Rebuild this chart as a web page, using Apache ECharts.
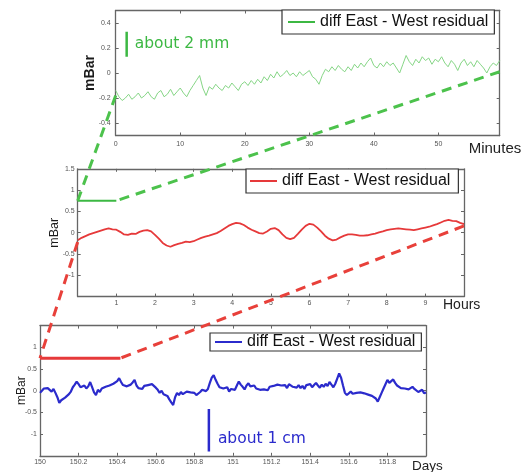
<!DOCTYPE html>
<html><head><meta charset="utf-8">
<script src="https://cdn.jsdelivr.net/npm/echarts@6/dist/echarts.min.js"></script>
<style>html,body{margin:0;padding:0;background:#fff}#c{width:524px;height:472px}</style>
</head><body><div id="c"></div>
<script>
// ---------------- data ----------------
const seriesName = 'diff East - West residual';

// Panel 1: minutes (0 .. 59.5, step 0.5)
const minuteStep = 0.5;
const minuteValues = [
 -0.14,-0.19,-0.22,-0.20,-0.17,-0.21,-0.19,-0.16,-0.20,-0.18,
 -0.15,-0.19,-0.21,-0.16,-0.14,-0.19,-0.17,-0.13,-0.18,-0.15,
 -0.12,-0.16,-0.19,-0.14,-0.10,-0.06,-0.02,-0.12,-0.18,-0.11,
 -0.13,-0.09,-0.12,-0.14,-0.10,-0.12,-0.08,-0.11,-0.14,-0.09,
 -0.07,-0.10,-0.06,-0.09,-0.05,-0.08,-0.03,-0.06,-0.01,-0.04,
  0.01,-0.03,-0.01, 0.02,-0.02, 0.00,-0.03, 0.01,-0.02, 0.00,
  0.02,-0.03,-0.05,-0.09,-0.02, 0.03, 0.01, 0.05, 0.02, 0.06,
  0.03, 0.01, 0.05, 0.02, 0.07, 0.04, 0.08, 0.05, 0.09, 0.12,
  0.06, 0.04, 0.08, 0.05, 0.09, 0.06, 0.08, 0.04, 0.00, 0.07,
  0.14, 0.09, 0.06, 0.11, 0.08, 0.13, 0.10, 0.12, 0.07, 0.11,
  0.09, 0.13, 0.08, 0.05, 0.10, 0.07, 0.02, 0.08, 0.11, 0.06,
  0.09, 0.05, 0.10, 0.07, 0.04, 0.00, 0.05, 0.08, 0.06, 0.10
];

// Panel 2: hours (0 .. 10, step 0.1)
const hourStep = 0.1;
const hourValues = [
 -0.18,-0.12,-0.08,-0.04,-0.01, 0.02, 0.05, 0.08, 0.10, 0.08,
  0.07, 0.02,-0.04,-0.05,-0.02,-0.03, 0.02, 0.05, 0.06, 0.03,
 -0.05,-0.14,-0.24,-0.30,-0.33,-0.29,-0.26,-0.24,-0.21,-0.22,
 -0.20,-0.16,-0.12,-0.09,-0.07,-0.04,-0.01, 0.04, 0.10, 0.16,
  0.20, 0.23, 0.22, 0.18, 0.12, 0.07, 0.03,-0.01,-0.02, 0.03,
  0.09, 0.11, 0.06,-0.04,-0.12,-0.15,-0.12,-0.03, 0.07, 0.16,
  0.21, 0.19, 0.12, 0.03,-0.07,-0.14,-0.18,-0.16,-0.11,-0.07,
 -0.04,-0.04,-0.05,-0.07,-0.07,-0.06,-0.04,-0.02, 0.01, 0.03,
  0.06, 0.08, 0.09, 0.10, 0.09, 0.08, 0.07, 0.06, 0.08, 0.10,
  0.12, 0.14, 0.17, 0.20, 0.24, 0.28, 0.30, 0.28, 0.27, 0.23,
  0.20
];

// Panel 3: days (150 .. 152, step 0.01)
const dayStart = 150;
const dayStep = 0.01;
const dayValues = [
 -0.05, 0.00, 0.05, 0.09, 0.06, 0.02,-0.02, 0.04,-0.05,-0.15,
 -0.28,-0.22,-0.25,-0.16,-0.14,-0.08,-0.02, 0.08, 0.14, 0.21,
  0.15, 0.08, 0.06, 0.12, 0.05, 0.10, 0.20, 0.08,-0.04,-0.10,
  0.02,-0.03, 0.05, 0.02, 0.09, 0.07, 0.12, 0.10, 0.16, 0.13,
  0.22, 0.29, 0.20, 0.13, 0.17, 0.10, 0.06, 0.14, 0.19, 0.25,
  0.12, 0.06, 0.10, 0.04, 0.11, 0.08, 0.13, 0.09, 0.15, 0.13,
  0.07, 0.02,-0.05, 0.00,-0.08,-0.04,-0.12,-0.20,-0.27,-0.33,
 -0.15,-0.05,-0.10,-0.03,-0.08,-0.05,-0.02,-0.06,-0.04,-0.08,
 -0.05,-0.10,-0.07,-0.03, 0.02, 0.06,-0.01, 0.04, 0.18, 0.30,
  0.36, 0.25, 0.16, 0.08, 0.12, 0.05, 0.02, 0.08,-0.02, 0.04,
  0.08, 0.02, 0.12, 0.21, 0.14, 0.09, 0.03, 0.12, 0.17, 0.10,
  0.06, 0.12, 0.05, 0.09, 0.02,-0.02, 0.03, 0.06, 0.01, 0.09,
  0.05, 0.11, 0.07, 0.14, 0.17, 0.12, 0.09, 0.13, 0.06, 0.15,
  0.17, 0.09, 0.13, 0.07, 0.13, 0.06, 0.11, 0.04, 0.13, 0.09,
  0.15, 0.08, 0.13, 0.18, 0.12, 0.07, 0.14, 0.09, 0.16, 0.11,
  0.20, 0.14, 0.08, 0.16, 0.28, 0.40, 0.30, 0.12,-0.05,-0.10,
 -0.08,-0.02,-0.07,-0.03,-0.05,-0.09,-0.04,-0.02,-0.06,-0.05,
 -0.09,-0.07,-0.12,-0.10,-0.18,-0.25,-0.15,-0.05, 0.05, 0.15,
  0.25, 0.18, 0.21, 0.26, 0.18, 0.12, 0.15, 0.06, 0.10, 0.05,
  0.09, 0.03, 0.07, 0.09, 0.04, 0.07,-0.03,-0.05, 0.02,-0.06,
 -0.04
];

// Tick values
const minuteTicks = [0, 10, 20, 30, 40, 50];
const minuteYTicks = [-0.4, -0.2, 0, 0.2, 0.4];
const hourTicks = [1, 2, 3, 4, 5, 6, 7, 8, 9];
const hourYTicks = [-1, -0.5, 0, 0.5, 1, 1.5];
const hourYTickMarks = [-1.5, -1, -0.5, 0, 0.5, 1, 1.5];
const dayTicks = [150, 150.2, 150.4, 150.6, 150.8, 151, 151.2, 151.4, 151.6, 151.8];
const dayYTicks = [-1, -0.5, 0, 0.5, 1];

// Axis ranges
const minuteRange = [0, 59.5], minuteYRange = [-0.5, 0.5];
const hourRange = [0, 10], hourYRange = [-1.5, 1.5];
const dayRange = [150, 152], dayYRange = [-1.5, 1.5];

// Axis titles
const xTitles = ['Minutes', 'Hours', 'Days'];
const yTitle = 'mBar';

// Zoom markers (the span shown in the panel above) and scale bars
const zoomMarkHours = [[0, 0.75], [1, 0.75]];
const zoomMarkDays = [[150, 0.75], [150.4167, 0.75]];
const scaleBar2mm = [[1.7, 0.13], [1.7, 0.33]];
const scaleBar1cm = [[150.875, -0.42], [150.875, -1.4]];
const label2mm = 'about 2 mm';
const label1cm = 'about 1 cm';
const label2mmAnchor = [1.7, 0.23];
const label1cmAnchor = [150.875, -1.11];
// Connector anchors in the upper panels
const connectGreenFrom = [[0, -0.18], [59.5, 0.01]];
const connectRedFrom = [[0, -0.22], [10, 0.16]];

// ---------------- build ----------------
const minuteData = minuteValues.map((v, i) => [i * minuteStep, v]);
const hourData = hourValues.map((v, i) => [+(i * hourStep).toFixed(2), v]);
const dayData = dayValues.map((v, i) => [+(dayStart + i * dayStep).toFixed(3), v]);

const FONT = 'Liberation Sans, Arial, sans-serif';
const axisColor = '#666';
const GREEN = '#3cb843', GREEN_LIGHT = '#86d686', RED = '#e6393a', BLUE = '#2b2bcc';

function xAxes(gridIndex, range, ticks, o) {
  const base = {
    type: 'value', gridIndex, min: range[0], max: range[1],
    axisLine: {show: true, onZero: false, lineStyle: {color: axisColor, width: 1.3}},
    axisTick: {show: true, inside: true, length: 3, customValues: ticks, lineStyle: {color: axisColor}},
    splitLine: {show: false}
  };
  return [
    Object.assign({}, base, {
      position: 'bottom',
      axisLabel: {show: true, customValues: ticks, fontSize: 7, color: '#555', margin: o.margin, fontFamily: FONT}
    }),
    Object.assign({}, base, {position: 'top', axisLabel: {show: false}})
  ];
}
function yAxes(gridIndex, range, ticks, tickMarks, o) {
  const base = {
    type: 'value', gridIndex, min: range[0], max: range[1],
    axisLine: {show: true, onZero: false, lineStyle: {color: axisColor, width: 1.3}},
    axisTick: {show: true, inside: true, length: 3, customValues: tickMarks, lineStyle: {color: axisColor}},
    splitLine: {show: false}
  };
  return [
    Object.assign({}, base, {
      position: 'left',
      axisLabel: {show: true, customValues: ticks, fontSize: 7, color: '#555', margin: o.margin, fontFamily: FONT},
      name: yTitle, nameLocation: 'middle', nameGap: o.nameGap, nameRotate: 90, nameMoveOverlap: false,
      nameTextStyle: {fontSize: o.nameSize, color: '#1a1a1a', fontFamily: FONT, fontWeight: o.bold ? 'bold' : 'normal'}
    }),
    Object.assign({}, base, {position: 'right', axisLabel: {show: false}})
  ];
}

function legend(top, left, color, pad) {
  return {
    top, left, orient: 'horizontal', selectedMode: false,
    backgroundColor: '#fff', borderColor: '#333', borderWidth: 1.2, borderRadius: 0,
    padding: pad, itemWidth: 27, itemHeight: 14,
    textStyle: {fontSize: 16, color: '#111', fontFamily: FONT},
    data: [{name: seriesName, icon: 'path://M0,6 L27,6 L27,8 L0,8 Z',
            itemStyle: {color: color}, lineStyle: {color: color}}]
  };
}

const option = {
  animation: false,
  backgroundColor: '#fff',
  grid: [
    {left: 115.7, top: 10.5, width: 384, height: 125},
    {left: 77.7, top: 168.8, width: 386.3, height: 127.8},
    {left: 40, top: 325.6, width: 386, height: 130.2}
  ],
  xAxis: [].concat(
    xAxes(0, minuteRange, minuteTicks, {margin: 5}),
    xAxes(1, hourRange, hourTicks, {margin: 3}),
    xAxes(2, dayRange, dayTicks, {margin: 3})
  ),
  yAxis: [].concat(
    yAxes(0, minuteYRange, minuteYTicks, minuteYTicks, {margin: 5, nameGap: 19, nameSize: 14, bold: true}),
    yAxes(1, hourYRange, hourYTicks, hourYTickMarks, {margin: 3, nameGap: 16.5, nameSize: 12.5}),
    yAxes(2, dayYRange, dayYTicks, dayYTicks, {margin: 3, nameGap: 12, nameSize: 12})
  ),
  legend: [
    legend(10, 282, GREEN, [4, 6, 4, 6]),
    legend(169, 246, RED, [4, 8, 4, 4]),
    legend(333, 210, BLUE, [1, 6, 1, 5])
  ],
  series: [
    {name: seriesName, type: 'line', xAxisIndex: 0, yAxisIndex: 0, data: minuteData,
     symbol: 'none', lineStyle: {color: GREEN_LIGHT, width: 1}, itemStyle: {color: GREEN_LIGHT}, z: 3},
    {name: 'scale 2mm', type: 'line', xAxisIndex: 0, yAxisIndex: 0, data: scaleBar2mm,
     symbol: 'none', lineStyle: {color: GREEN, width: 2.5}, z: 4},
    {name: seriesName, type: 'line', xAxisIndex: 2, yAxisIndex: 2, data: hourData,
     symbol: 'none', lineStyle: {color: RED, width: 1.8}, itemStyle: {color: RED}, z: 3},
    {name: 'zoom span minutes', type: 'line', xAxisIndex: 2, yAxisIndex: 2, data: zoomMarkHours,
     symbol: 'none', lineStyle: {color: GREEN, width: 1.8}, z: 4},
    {name: seriesName, type: 'line', xAxisIndex: 4, yAxisIndex: 4, data: dayData,
     symbol: 'none', lineStyle: {color: BLUE, width: 2.2}, itemStyle: {color: BLUE}, z: 3},
    {name: 'zoom span hours', type: 'line', xAxisIndex: 4, yAxisIndex: 4, data: zoomMarkDays,
     symbol: 'none', lineStyle: {color: RED, width: 3}, z: 4},
    {name: 'scale 1cm', type: 'line', xAxisIndex: 4, yAxisIndex: 4, data: scaleBar1cm,
     symbol: 'none', lineStyle: {color: BLUE, width: 2.5}, z: 4}
  ]
};

const chart = echarts.init(document.getElementById('c'), null, {renderer: 'canvas'});
chart.setOption(option);

// connectors, axis titles and annotation texts, positioned through the chart's own scales
const px = (si, v) => chart.convertToPixel({seriesIndex: si}, v);
function dashed(a, b, color) {
  return {type: 'line', z: 100, silent: true,
    shape: {x1: a[0], y1: a[1], x2: b[0], y2: b[1]},
    style: {stroke: color, lineWidth: 3, lineDash: [10, 7]}};
}
function xTitle(si, xr, yr, text, dx, dy, size) {
  const p = px(si, [xr[1], yr[0]]);
  return {type: 'text', z: 90, x: p[0] + dx, y: p[1] + dy,
    style: {text, fill: '#222', font: size + 'px ' + FONT, verticalAlign: 'middle', align: 'left'}};
}
const gA1 = px(0, connectGreenFrom[0]), gA2 = px(2, zoomMarkHours[0]);
const gB1 = px(0, connectGreenFrom[1]), gB2 = px(2, zoomMarkHours[1]);
const rA1 = px(2, connectRedFrom[0]), rA2 = px(4, zoomMarkDays[0]);
const rB1 = px(2, connectRedFrom[1]), rB2 = px(4, zoomMarkDays[1]);
const t2 = px(0, label2mmAnchor), t1 = px(4, label1cmAnchor);
chart.setOption({
  graphic: [
    xTitle(0, minuteRange, minuteYRange, xTitles[0], -31, 13.5, 15),
    xTitle(2, hourRange, hourYRange, xTitles[1], -21, 9, 14),
    xTitle(4, dayRange, dayYRange, xTitles[2], -14, 10, 13.5),
    dashed(gA1, gA2, '#4cc24c'), dashed(gB1, gB2, '#4cc24c'),
    dashed(rA1, rA2, '#e8403a'), dashed(rB1, rB2, '#e8403a'),
    {type: 'text', z: 100, x: t2[0] + 8, y: t2[1],
     style: {text: label2mm, fill: GREEN, font: '15.5px "DejaVu Sans"', verticalAlign: 'middle'}},
    {type: 'text', z: 100, x: t1[0] + 9, y: t1[1],
     style: {text: label1cm, fill: BLUE, font: '15.5px "DejaVu Sans"', verticalAlign: 'middle'}}
  ]
});
</script>
</body></html>
